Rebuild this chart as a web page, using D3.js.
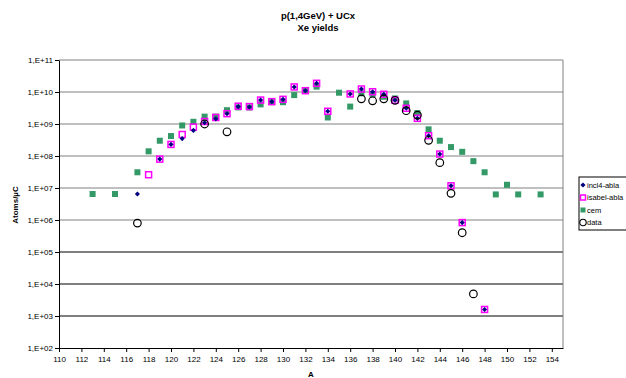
<!DOCTYPE html>
<meta charset="utf-8">
<style>
body { margin: 0; background: #fff; }
svg text { font-family: "Liberation Sans", Arial, sans-serif; }
.axis path, .axis line { stroke: #000; }
</style>
<svg width="626" height="378"></svg>
<script src="https://d3js.org/d3.v7.min.js"></script>
<script>
// mass numbers and yields (atoms/uC)
var incl4A = [117, 119, 120, 121, 122, 123, 124, 125, 126, 127, 128, 129, 130, 131, 132, 133, 134, 136, 137, 138, 139, 140, 141, 142, 143, 144, 145, 146, 148];
var incl4Y = [6.5e6, 8e7, 2.3e8, 3.5e8, 6.3e8, 1.1e9, 1.45e9, 2.1e9, 3.5e9, 3.4e9, 5.6e9, 5e9, 5.9e9, 1.44e10, 1.1e10, 1.87e10, 2.5e9, 8.7e9, 1.24e10, 1.02e10, 8.5e9, 5.5e9, 3.1e9, 1.5e9, 4.3e8, 1.15e8, 1.17e7, 8.3e5, 1.6e3];

var isabelA = [118, 119, 120, 121, 122, 123, 124, 125, 126, 127, 128, 129, 130, 131, 132, 133, 134, 136, 137, 138, 139, 140, 141, 142, 143, 144, 145, 146, 148];
var isabelY = [2.6e7, 8e7, 2.3e8, 4.7e8, 8e8, 1.2e9, 1.6e9, 2.1e9, 3.6e9, 3.5e9, 5.6e9, 5e9, 5.9e9, 1.44e10, 1.1e10, 1.87e10, 2.5e9, 8.7e9, 1.24e10, 1.02e10, 8.5e9, 5.5e9, 3.1e9, 1.5e9, 4.3e8, 1.15e8, 1.17e7, 8.3e5, 1.6e3];

var cemA = [113, 115, 117, 118, 119, 120, 121, 122, 123, 124, 125, 126, 127, 128, 129, 130, 131, 132, 133, 134, 135, 136, 137, 138, 139, 140, 141, 142, 143, 144, 145, 146, 147, 148, 149, 150, 151, 153];
var cemY = [6.5e6, 6.5e6, 3.1e7, 1.4e8, 3e8, 4.2e8, 9e8, 1.17e9, 1.7e9, 1.7e9, 2.7e9, 3.3e9, 3.3e9, 4.1e9, 4.8e9, 4.8e9, 8e9, 1.07e10, 1.47e10, 1.6e9, 9.5e9, 3.5e9, 9.1e9, 8.5e9, 7.1e9, 6.3e9, 4.4e9, 2.2e9, 6.8e8, 3e8, 1.9e8, 1.35e8, 6.9e7, 3.1e7, 6.3e6, 1.26e7, 6.3e6, 6.3e6];

var dataA = [117, 123, 125, 137, 138, 139, 140, 141, 142, 143, 144, 145, 146, 147];
var dataY = [8e5, 1e9, 5.7e8, 6.1e9, 5.3e9, 6.1e9, 5.5e9, 2.6e9, 1.9e9, 3.1e8, 6.2e7, 6.8e6, 4e5, 4.9e3];

var xTicks = d3.range(110, 155, 2);
var yTicks = [1e2, 1e3, 1e4, 1e5, 1e6, 1e7, 1e8, 1e9, 1e10, 1e11];
var seriesNames = ["incl4-abla", "isabel-abla", "cem", "data"];

var svg = d3.select("svg"),
    margin = {top: 60, right: 63, bottom: 30, left: 59},
    width = +svg.attr("width") - margin.left - margin.right,
    height = +svg.attr("height") - margin.top - margin.bottom;

var x = d3.scaleLinear().domain([110, 155]).range([0, width]),
    y = d3.scaleLog().domain([1e2, 1e11]).range([height, 0]);

var fmt = function(v) { return "1,E+" + d3.format("02d")(Math.round(Math.log10(v))); };

svg.append("text")
    .attr("x", 318).attr("y", 19)
    .attr("text-anchor", "middle")
    .attr("font-size", 9.5).attr("font-weight", "bold")
    .text("p(1,4GeV) + UCx");
svg.append("text")
    .attr("x", 318).attr("y", 31)
    .attr("text-anchor", "middle")
    .attr("font-size", 9.5).attr("font-weight", "bold")
    .text("Xe yields");

var g = svg.append("g")
    .attr("transform", "translate(" + margin.left + "," + margin.top + ")");

// gridlines
g.selectAll(".grid")
  .data(yTicks.slice(1))
  .enter().append("line")
    .attr("x1", 0).attr("x2", width)
    .attr("y1", function(d) { return y(d); })
    .attr("y2", function(d) { return y(d); })
    .attr("stroke", function(d) { return d >= 1e6 ? "#808080" : "#000"; })
    .attr("stroke-width", 1);

g.append("line")
    .attr("x1", width).attr("x2", width)
    .attr("y1", 0).attr("y2", height)
    .attr("stroke", "#808080");

g.append("g")
    .attr("class", "axis")
    .attr("transform", "translate(0," + height + ")")
    .call(d3.axisBottom(x).tickValues(xTicks).tickFormat(d3.format("d")).tickSize(4).tickSizeOuter(0))
    .call(function(s) {
      s.selectAll("text").attr("font-size", 8).attr("fill", "#000").attr("dy", "0.9em");
    });

g.append("g")
    .attr("class", "axis")
    .call(d3.axisLeft(y).tickValues(yTicks).tickFormat(fmt).tickSize(4).tickSizeOuter(0))
    .call(function(s) {
      s.selectAll("text").attr("font-size", 8).attr("fill", "#000").attr("x", -6);
    });

svg.append("text")
    .attr("x", 311).attr("y", 377)
    .attr("text-anchor", "middle")
    .attr("font-size", 8).attr("font-weight", "bold")
    .text("A");

svg.append("text")
    .attr("transform", "translate(18,205) rotate(-90)")
    .attr("text-anchor", "middle")
    .attr("font-size", 8).attr("font-weight", "bold")
    .text("Atoms/µC");

function pairs(a, v) { return a.map(function(d, i) { return [d, v[i]]; }); }

// small diamond: a square turned by 45 degrees
var diamond = d3.symbol().type(d3.symbolSquare).size(13);

// cem
g.selectAll(".cem")
  .data(pairs(cemA, cemY))
  .enter().append("rect")
    .attr("x", function(d) { return x(d[0]) - 3; })
    .attr("y", function(d) { return y(d[1]) - 3; })
    .attr("width", 6).attr("height", 6)
    .attr("fill", "#339966");

// isabel
g.selectAll(".isabel")
  .data(pairs(isabelA, isabelY))
  .enter().append("rect")
    .attr("x", function(d) { return x(d[0]) - 3; })
    .attr("y", function(d) { return y(d[1]) - 3; })
    .attr("width", 6).attr("height", 6)
    .attr("fill", "none")
    .attr("stroke", "#ff00ff").attr("stroke-width", 1.5);

// incl4
g.selectAll(".incl4")
  .data(pairs(incl4A, incl4Y))
  .enter().append("path")
    .attr("d", diamond)
    .attr("transform", function(d) { return "translate(" + x(d[0]) + "," + y(d[1]) + ") rotate(45)"; })
    .attr("fill", "#000080");

// data
g.selectAll(".data")
  .data(pairs(dataA, dataY))
  .enter().append("circle")
    .attr("cx", function(d) { return x(d[0]); })
    .attr("cy", function(d) { return y(d[1]); })
    .attr("r", 3.8)
    .attr("fill", "none")
    .attr("stroke", "#000").attr("stroke-width", 1.2);

// legend
var lg = svg.append("g").attr("transform", "translate(579,177)");
lg.append("rect")
    .attr("width", 60).attr("height", 53)
    .attr("fill", "#fff").attr("stroke", "#000");

var item = lg.selectAll(".item")
  .data(seriesNames)
  .enter().append("g")
    .attr("transform", function(d, i) { return "translate(0," + (8 + i * 12.5) + ")"; });

item.append("text")
    .attr("x", 8).attr("dy", "0.35em")
    .attr("font-size", 7.5)
    .text(function(d) { return d; });

item.each(function(d, i) {
  var s = d3.select(this);
  if (i === 0) s.append("path").attr("d", diamond).attr("transform", "translate(4,0) rotate(45)").attr("fill", "#000080");
  if (i === 1) s.append("rect").attr("x", 1.5).attr("y", -2.5).attr("width", 5).attr("height", 5)
      .attr("fill", "none").attr("stroke", "#ff00ff").attr("stroke-width", 1.5);
  if (i === 2) s.append("rect").attr("x", 1.5).attr("y", -2.5).attr("width", 5).attr("height", 5).attr("fill", "#339966");
  if (i === 3) s.append("circle").attr("cx", 4).attr("r", 3.2).attr("fill", "none").attr("stroke", "#000").attr("stroke-width", 1.1);
});
</script>
